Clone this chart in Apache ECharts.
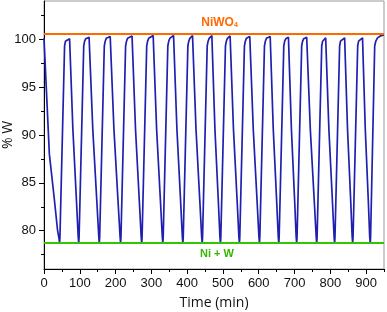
<!DOCTYPE html>
<html>
<head>
<meta charset="utf-8">
<script src="https://cdn.jsdelivr.net/npm/echarts@6/dist/echarts.min.js"></script>
<style>
html,body{margin:0;padding:0;background:#fff;}
#chart{width:387px;height:312px;}
</style>
</head>
<body>
<div id="chart"></div>
<script>
// Time (min) of each sampled point along the blue curve
var timeMin = [
  0, 15, 28, 38, 42, 43.5,
  44.5, 57.5, 60, 63, 71.5, 80.7, 90.9, 95.5, 97,
  98, 111, 113.5, 116.5, 126, 136.3, 147.7, 153, 154.5,
  155.5, 168.5, 171, 174, 185, 195.4, 207, 212.5, 214,
  215, 228, 230.5, 233.5, 246, 255.7, 266.5, 271.5, 273,
  274, 287, 289.5, 292.5, 305, 314.7, 325.5, 330.5, 332,
  333, 346, 348.5, 351.5, 362, 371.4, 381.8, 386.5, 388,
  389, 402, 404.5, 407.5, 415, 424.7, 435.5, 440.5, 442,
  443, 456, 458.5, 461.5, 469, 477.6, 487.2, 491.5, 493,
  494, 507, 509.5, 512.5, 520, 529.4, 539.8, 544.5, 546,
  547, 560, 562.5, 565.5, 575, 584.7, 595.5, 600.5, 602,
  603, 616, 618.5, 621.5, 632, 640.6, 650.2, 654.5, 656,
  657, 670, 672.5, 675.5, 683, 691.3, 700.5, 704.5, 706,
  707, 720, 722.5, 725.5, 734, 744.1, 755.3, 760.5, 762,
  763, 776, 778.5, 781, 787, 796, 806, 810.5, 812,
  813, 826, 828.5, 831.5, 840, 848.1, 857.1, 861, 862.5,
  863.5, 876.5, 879, 882, 890, 897.7, 906.3, 910, 911.5,
  912.5, 924, 927, 932, 940, 950
];
// % W at each of those times
var pctW = [
  100.1, 88.0, 83.6, 80.0, 79.2, 78.7,
  79.3, 99.3, 99.8, 99.95, 100.05, 90.6, 83.0, 79.4, 78.7,
  79.3, 99.3, 99.8, 100.05, 100.2, 90.6, 83.0, 79.4, 78.7,
  79.3, 99.3, 99.8, 100.1, 100.3, 90.6, 83.0, 79.4, 78.7,
  79.3, 99.3, 99.8, 100.1, 100.35, 90.6, 83.0, 79.4, 78.7,
  79.3, 99.3, 99.8, 100.1, 100.4, 90.6, 83.0, 79.4, 78.7,
  79.3, 99.3, 99.8, 100.1, 100.4, 90.6, 83.0, 79.4, 78.7,
  79.3, 99.3, 99.8, 100.1, 100.4, 90.6, 83.0, 79.4, 78.7,
  79.3, 99.3, 99.8, 100.1, 100.4, 90.6, 83.0, 79.4, 78.7,
  79.3, 99.3, 99.8, 100.1, 100.35, 90.6, 83.0, 79.4, 78.7,
  79.3, 99.3, 99.8, 100.1, 100.3, 90.6, 83.0, 79.4, 78.7,
  79.3, 99.3, 99.8, 100.1, 100.3, 90.6, 83.0, 79.4, 78.7,
  79.3, 99.3, 99.8, 100.05, 100.2, 90.6, 83.0, 79.4, 78.7,
  79.3, 99.3, 99.8, 100.05, 100.2, 90.6, 83.0, 79.4, 78.7,
  79.3, 99.3, 99.8, 100.0, 100.15, 90.6, 83.0, 79.4, 78.7,
  79.3, 99.3, 99.8, 100.0, 100.15, 90.6, 83.0, 79.4, 78.7,
  79.3, 99.3, 99.8, 100.0, 100.15, 90.6, 83.0, 79.4, 78.7,
  79.3, 99.3, 99.8, 100.15, 100.35, 100.45
];
// Reference levels
var niwo4Level = 100.55;
var niWLevel = 78.7;
// Ticks
var xLabels = [0, 100, 200, 300, 400, 500, 600, 700, 800, 900];
var xMinor = [50, 150, 250, 350, 450, 550, 650, 750, 850, 950];
var yLabels = [80, 85, 90, 95, 100];
var yMinor = [77.5, 82.5, 87.5, 92.5, 97.5, 102.5];

var data = timeMin.map(function (t, i) { return [t, pctW[i]]; });

var chart = echarts.init(document.getElementById('chart'), null, {renderer: 'canvas'});
var axisFont = {fontFamily: 'Liberation Sans, Arial, sans-serif', fontSize: 13, color: '#111'};
chart.setOption({
  animation: false,
  backgroundColor: '#fff',
  grid: {left: 44, right: 3, top: 1, bottom: 43, show: true, borderColor: '#999', borderWidth: 1,
         backgroundColor: 'transparent', containLabel: false, outerBoundsMode: 'none'},
  xAxis: [{
    type: 'value', min: 0, max: 950,
    axisLine: {show: true, onZero: false, lineStyle: {color: '#000', width: 1}},
    axisTick: {show: true, length: 5, customValues: xLabels, lineStyle: {color: '#000'}},
    axisLabel: Object.assign({customValues: xLabels, margin: 8, showMinLabel: true}, axisFont),
    splitLine: {show: false},
    name: 'Time (min)', nameLocation: 'middle', nameGap: 27, nameMoveOverlap: false,
    nameTextStyle: {fontFamily: 'Open Sans, sans-serif', fontSize: 14, color: '#111'}
  }, {
    type: 'value', min: 0, max: 950, position: 'bottom', gridIndex: 0,
    axisLine: {show: false},
    axisTick: {show: true, length: 3, customValues: xMinor, lineStyle: {color: '#000'}},
    axisLabel: {show: false},
    splitLine: {show: false}
  }],
  yAxis: [{
    type: 'value', min: 76, max: 104,
    axisLine: {show: true, onZero: false, lineStyle: {color: '#000', width: 1}},
    axisTick: {show: true, length: 5, customValues: yLabels, lineStyle: {color: '#000'}},
    axisLabel: Object.assign({customValues: yLabels, margin: 8}, axisFont),
    splitLine: {show: false},
    name: '% W', nameLocation: 'middle', nameGap: 29, nameRotate: 90, nameMoveOverlap: false,
    nameTextStyle: {fontFamily: 'Open Sans, sans-serif', fontSize: 14, color: '#111'}
  }, {
    type: 'value', min: 76, max: 104, position: 'left',
    axisLine: {show: false},
    axisTick: {show: true, length: 3, customValues: yMinor, lineStyle: {color: '#000'}},
    axisLabel: {show: false},
    splitLine: {show: false}
  }],
  series: [{
    type: 'line',
    xAxisIndex: 0, yAxisIndex: 0,
    data: data,
    showSymbol: false,
    smooth: false,
    lineStyle: {color: '#2020b0', width: 1.7},
    z: 3,
    markLine: {
      silent: true,
      symbol: 'none',
      animation: false,
      data: [
        {yAxis: niwo4Level, lineStyle: {color: '#ff6a00', width: 2, type: 'solid'},
         label: {show: true, position: 'insideMiddleTop', distance: 5, padding: [0, 0, 0, 11],
           formatter: '{a|NiWO}{s|4}',
           rich: {a: {color: '#ff6a00', fontSize: 12, fontWeight: 'bold', fontFamily: 'Liberation Sans, Arial, sans-serif'},
                  s: {color: '#ff6a00', fontSize: 7, fontWeight: 'bold', verticalAlign: 'bottom', padding: [6, 0, 0, 0], fontFamily: 'Liberation Sans, Arial, sans-serif'}}}},
        {yAxis: niWLevel, lineStyle: {color: '#33c600', width: 2, type: 'solid'},
         label: {show: true, position: 'insideMiddleBottom', distance: 5, padding: [0, 0, 0, 6],
           formatter: 'Ni + W', color: '#33b800', fontSize: 11, fontWeight: 'bold',
           fontFamily: 'Liberation Sans, Arial, sans-serif'}}
      ]
    }
  }]
});
</script>
</body>
</html>
